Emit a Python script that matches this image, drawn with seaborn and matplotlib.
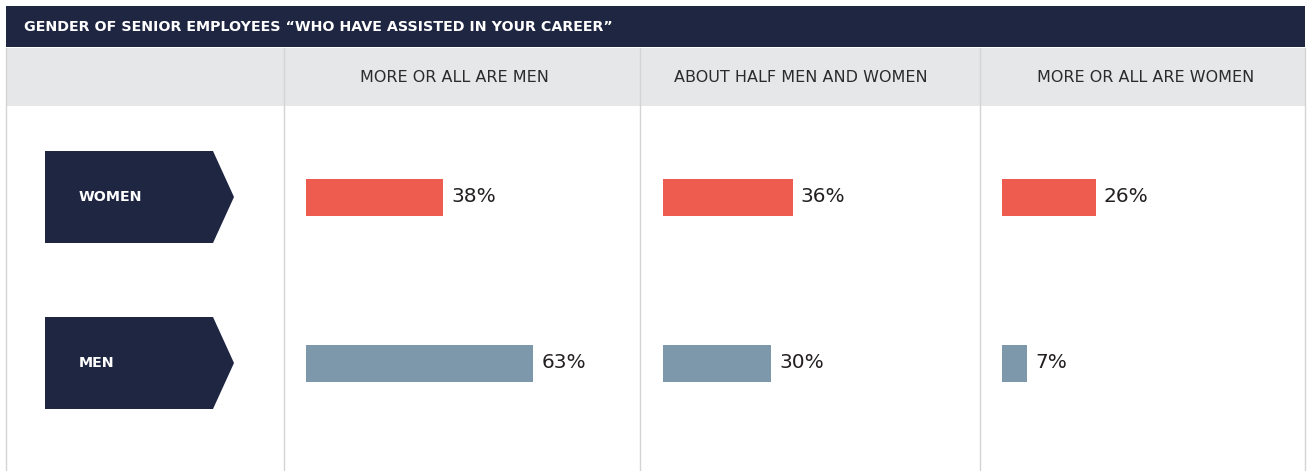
import pandas as pd
import seaborn as sns
import matplotlib.pyplot as plt
from matplotlib.patches import Polygon, Rectangle

sns.set_theme(style="white")
plt.rcParams['font.family'] = ['DejaVu Sans']

# data
title = 'GENDER OF SENIOR EMPLOYEES \u201cWHO HAVE ASSISTED IN YOUR CAREER\u201d'
columns = ['MORE OR ALL ARE MEN', 'ABOUT HALF MEN AND WOMEN', 'MORE OR ALL ARE WOMEN']
genders = ['WOMEN', 'MEN']
women = [38, 36, 26]
men = [63, 30, 7]

df = pd.DataFrame({
    'column': columns * 2,
    'gender': ['WOMEN'] * 3 + ['MEN'] * 3,
    'value': women + men,
})

navy = '#1f2642'
palette = {'WOMEN': '#ee5b4f', 'MEN': '#7e98ab'}
W, H = 1307, 471
body_top = 106
row_y = [197, 363]          # pixel centres of the two rows
row_gap = row_y[1] - row_y[0]
px_per_pct = 3.6

fig = plt.figure(figsize=(W / 100, H / 100), dpi=100)

# background layer in pixel coordinates
bg = fig.add_axes([0, 0, 1, 1])
bg.set_xlim(0, W)
bg.set_ylim(H, 0)
bg.axis('off')

bg.add_patch(Rectangle((6, 6), 1299, 41, color=navy, lw=0))
bg.text(24, 27, title, color='white', fontsize=10.3, fontweight='bold', va='center')
bg.add_patch(Rectangle((6, 48), 1299, 58, color='#e6e7e9', lw=0))
for x in [6, 284, 640, 980, 1305]:
    bg.plot([x, x], [48, H], color='#d4d4d4', lw=1)

# chevron row labels
for g, yc in zip(genders, row_y):
    bg.add_patch(Polygon([(45, yc - 46), (213, yc - 46), (234, yc),
                          (213, yc + 46), (45, yc + 46)], color=navy, lw=0))
    bg.text(79, yc, g, color='white', fontsize=10.3, fontweight='bold', va='center')

header_x = [454, 801, 1146]
col_left = [306, 663, 1002]
col_right = [640, 980, 1305]

for i, col in enumerate(columns):
    bg.text(header_x[i], 77, col, color='#2b2b2b', fontsize=11.5,
            ha='center', va='center')

    left = col_left[i]
    width = col_right[i] - left
    ax = fig.add_axes([left / W, 0, width / W, (H - body_top) / H])
    sub = df[df['column'] == col]
    sns.barplot(data=sub, x='value', y='gender', hue='gender', order=genders,
                hue_order=genders, palette=palette, saturation=1,
                width=37 / row_gap, linewidth=0, legend=False, ax=ax)
    ax.set_xlim(0, width / px_per_pct)
    ax.set_ylim(1 + (H - row_y[1]) / row_gap, -(row_y[0] - body_top) / row_gap)
    ax.axis('off')
    ax.patch.set_alpha(0)
    for c in ax.containers:
        ax.bar_label(c, fmt='%d%%', padding=6, fontsize=14.5, color='#231f20')

fig.savefig('out.png', dpi=100)
